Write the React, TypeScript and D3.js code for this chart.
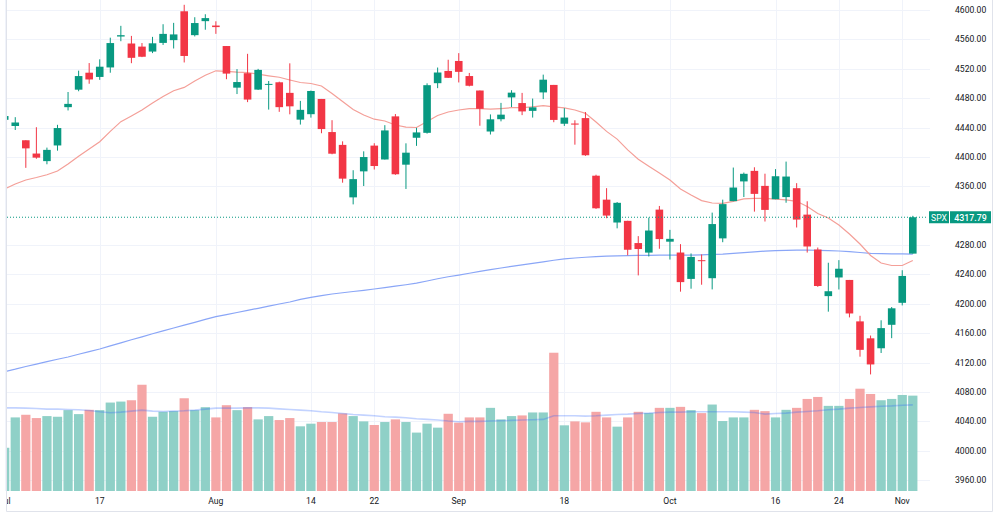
import * as d3 from 'd3'

// SPX daily, Jul 3 – Nov 2 2023
const dates = [
  '2023-07-03', '2023-07-05', '2023-07-06', '2023-07-07', '2023-07-10', '2023-07-11', '2023-07-12', '2023-07-13', '2023-07-14', '2023-07-17',
  '2023-07-18', '2023-07-19', '2023-07-20', '2023-07-21', '2023-07-24', '2023-07-25', '2023-07-26', '2023-07-27', '2023-07-28', '2023-07-31',
  '2023-08-01', '2023-08-02', '2023-08-03', '2023-08-04', '2023-08-07', '2023-08-08', '2023-08-09', '2023-08-10', '2023-08-11', '2023-08-14',
  '2023-08-15', '2023-08-16', '2023-08-17', '2023-08-18', '2023-08-21', '2023-08-22', '2023-08-23', '2023-08-24', '2023-08-25', '2023-08-28',
  '2023-08-29', '2023-08-30', '2023-08-31', '2023-09-01', '2023-09-05', '2023-09-06', '2023-09-07', '2023-09-08', '2023-09-11', '2023-09-12',
  '2023-09-13', '2023-09-14', '2023-09-15', '2023-09-18', '2023-09-19', '2023-09-20', '2023-09-21', '2023-09-22', '2023-09-25', '2023-09-26',
  '2023-09-27', '2023-09-28', '2023-09-29', '2023-10-02', '2023-10-03', '2023-10-04', '2023-10-05', '2023-10-06', '2023-10-09', '2023-10-10',
  '2023-10-11', '2023-10-12', '2023-10-13', '2023-10-16', '2023-10-17', '2023-10-18', '2023-10-19', '2023-10-20', '2023-10-23', '2023-10-24',
  '2023-10-25', '2023-10-26', '2023-10-27', '2023-10-30', '2023-10-31', '2023-11-01', '2023-11-02',
]

const opens = [
  4450.48, 4442.04, 4422.62, 4404.54, 4394.23, 4415.55, 4467.69, 4491.50, 4514.61, 4508.86,
  4521.78, 4563.87, 4554.38, 4550.16, 4543.39, 4555.19, 4558.96, 4598.26, 4565.75, 4584.82,
  4578.83, 4550.93, 4494.27, 4513.96, 4491.58, 4498.03, 4501.57, 4487.16, 4450.69, 4458.13,
  4478.87, 4433.79, 4416.32, 4344.88, 4380.28, 4415.33, 4396.44, 4455.16, 4389.38, 4426.03,
  4432.75, 4500.34, 4517.01, 4530.60, 4510.06, 4490.35, 4434.55, 4451.30, 4480.98, 4473.27,
  4462.65, 4487.78, 4497.98, 4445.13, 4445.41, 4452.81, 4374.36, 4341.74, 4310.62, 4312.88,
  4282.63, 4269.65, 4328.18, 4284.52, 4269.75, 4233.83, 4259.31, 4234.79, 4289.02, 4339.75,
  4366.59, 4380.94, 4360.49, 4342.37, 4345.23, 4357.35, 4321.36, 4273.85, 4210.40, 4235.79,
  4232.42, 4175.99, 4152.93, 4139.39, 4171.33, 4201.27, 4268.26,
]
const highs = [
  4456.46, 4454.06, 4422.62, 4440.39, 4412.60, 4443.64, 4488.34, 4517.38, 4527.76, 4532.85,
  4562.30, 4578.43, 4564.74, 4555.00, 4563.41, 4580.62, 4582.47, 4607.07, 4590.16, 4594.22,
  4584.62, 4550.93, 4519.49, 4540.34, 4519.84, 4503.31, 4502.44, 4527.37, 4476.23, 4490.33,
  4478.87, 4449.95, 4421.17, 4381.82, 4407.55, 4418.59, 4443.18, 4458.30, 4418.46, 4439.56,
  4500.14, 4521.65, 4532.26, 4541.25, 4514.29, 4490.35, 4457.81, 4473.53, 4490.77, 4487.11,
  4479.39, 4511.99, 4497.98, 4466.36, 4449.85, 4461.03, 4375.70, 4357.40, 4338.51, 4313.01,
  4292.07, 4317.27, 4333.15, 4300.58, 4281.15, 4268.50, 4267.13, 4324.10, 4341.73, 4385.46,
  4378.64, 4385.85, 4377.10, 4383.33, 4393.57, 4364.20, 4339.54, 4276.56, 4255.84, 4259.38,
  4232.42, 4183.60, 4156.70, 4177.47, 4195.55, 4245.64, 4319.72,
]
const lows = [
  4442.29, 4436.61, 4385.05, 4397.40, 4389.92, 4408.46, 4463.23, 4489.36, 4499.56, 4504.90,
  4514.59, 4557.48, 4527.56, 4535.79, 4541.29, 4552.42, 4547.58, 4528.56, 4564.01, 4573.14,
  4567.53, 4505.75, 4485.54, 4474.55, 4491.15, 4464.39, 4461.33, 4457.92, 4443.98, 4453.44,
  4432.19, 4403.55, 4364.83, 4335.31, 4360.30, 4382.77, 4396.44, 4375.55, 4356.29, 4414.98,
  4431.68, 4493.59, 4507.39, 4501.35, 4496.01, 4442.38, 4430.46, 4448.38, 4467.89, 4456.83,
  4453.52, 4478.69, 4447.21, 4442.11, 4416.61, 4401.38, 4329.17, 4316.49, 4302.70, 4265.98,
  4238.63, 4264.38, 4274.86, 4260.21, 4216.45, 4220.48, 4225.91, 4219.55, 4283.79, 4339.64,
  4345.34, 4325.43, 4311.97, 4342.37, 4337.54, 4303.84, 4269.69, 4223.03, 4189.22, 4219.43,
  4181.42, 4127.90, 4103.78, 4132.94, 4153.12, 4197.74, 4268.26,
]
const closes = [
  4455.59, 4446.82, 4411.59, 4398.95, 4409.53, 4439.26, 4472.16, 4510.04, 4505.42, 4522.79,
  4554.98, 4565.72, 4534.87, 4536.34, 4554.64, 4567.46, 4566.75, 4537.41, 4582.23, 4588.96,
  4576.73, 4513.39, 4501.89, 4478.03, 4518.44, 4499.38, 4467.71, 4468.83, 4464.05, 4489.72,
  4437.86, 4404.33, 4370.36, 4369.71, 4399.77, 4387.55, 4436.01, 4376.31, 4405.71, 4433.31,
  4497.63, 4514.87, 4507.66, 4515.77, 4496.83, 4465.48, 4451.14, 4457.49, 4487.46, 4461.90,
  4467.44, 4505.10, 4450.32, 4453.53, 4443.95, 4402.20, 4330.00, 4320.06, 4337.44, 4273.53,
  4274.51, 4299.70, 4288.05, 4288.39, 4229.45, 4263.75, 4258.19, 4308.50, 4335.66, 4358.24,
  4376.95, 4349.61, 4327.78, 4373.63, 4373.20, 4314.60, 4278.00, 4224.16, 4217.04, 4247.68,
  4186.77, 4137.23, 4117.37, 4166.82, 4193.80, 4237.86, 4317.79,
]
// volume, billions
const volumes = [
  1.31, 2.23, 2.31, 2.21, 2.27, 2.25, 2.45, 2.33, 2.46, 2.45,
  2.68, 2.71, 2.75, 3.22, 2.25, 2.40, 2.42, 2.81, 2.45, 2.54,
  2.23, 2.60, 2.45, 2.54, 2.17, 2.27, 2.15, 2.21, 1.96, 2.04,
  2.09, 2.09, 2.35, 2.27, 2.11, 2.00, 2.09, 2.17, 2.09, 1.77,
  2.04, 1.92, 2.34, 2.07, 2.23, 2.23, 2.52, 2.17, 2.27, 2.29,
  2.38, 2.38, 4.19, 1.99, 2.11, 2.08, 2.40, 2.23, 1.95, 2.23,
  2.40, 2.36, 2.52, 2.52, 2.55, 2.45, 2.36, 2.62, 2.12, 2.23,
  2.23, 2.46, 2.42, 2.23, 2.46, 2.52, 2.79, 2.85, 2.58, 2.58,
  2.79, 3.10, 2.94, 2.75, 2.79, 2.91, 2.89,
]
// indicator lines
const maFast = [
  4356.3, 4363.1, 4368.5, 4371.9, 4375.7, 4380.8, 4390.3, 4400.8, 4410.7, 4420.7,
  4434.8, 4448.0, 4455.7, 4463.8, 4473.4, 4482.2, 4490.0, 4494.6, 4503.3, 4511.2,
  4517.2, 4516.4, 4515.3, 4514.9, 4512.6, 4510.4, 4508.4, 4504.7, 4501.3, 4499.9,
  4496.5, 4486.3, 4475.4, 4464.5, 4457.0, 4451.3, 4448.9, 4443.4, 4440.4, 4440.0,
  4448.2, 4456.3, 4461.1, 4463.8, 4465.7, 4465.8, 4464.9, 4465.8, 4467.0, 4467.0,
  4468.2, 4469.7, 4468.2, 4466.6, 4463.8, 4459.3, 4447.5, 4434.7, 4424.2, 4409.6,
  4396.7, 4387.3, 4377.9, 4368.5, 4356.3, 4348.1, 4340.5, 4337.2, 4336.8, 4339.3,
  4342.9, 4343.6, 4343.5, 4342.6, 4341.5, 4339.5, 4332.4, 4322.9, 4316.8, 4307.2,
  4295.0, 4281.4, 4265.7, 4255.5, 4252.1, 4252.1, 4258.9,
]
const maSlow = [
  4107.7, 4110.9, 4114.6, 4117.7, 4121.1, 4124.4, 4127.5, 4131.2, 4134.8, 4138.4,
  4142.6, 4146.8, 4151.0, 4155.0, 4159.1, 4163.0, 4167.0, 4170.9, 4174.7, 4178.8,
  4182.5, 4185.2, 4188.1, 4190.9, 4193.8, 4196.7, 4199.7, 4202.4, 4205.9, 4208.6,
  4211.0, 4213.3, 4215.0, 4216.7, 4218.3, 4220.1, 4222.0, 4224.0, 4225.9, 4228.0,
  4231.0, 4234.0, 4236.8, 4239.1, 4241.5, 4244.0, 4246.4, 4248.7, 4250.9, 4252.9,
  4255.1, 4257.1, 4259.2, 4261.1, 4262.3, 4263.3, 4264.1, 4264.9, 4265.3, 4265.6,
  4265.8, 4266.0, 4266.1, 4266.1, 4266.2, 4266.1, 4266.5, 4267.1, 4267.7, 4268.7,
  4269.6, 4270.6, 4271.7, 4272.4, 4272.7, 4272.9, 4273.2, 4272.8, 4272.4, 4271.8,
  4270.9, 4269.8, 4268.7, 4268.2, 4268.0, 4267.8, 4267.6,
]
const volumeMa = [
  2.52, 2.52, 2.51, 2.50, 2.48, 2.48, 2.47, 2.46, 2.44, 2.40,
  2.37, 2.39, 2.42, 2.45, 2.42, 2.41, 2.42, 2.43, 2.45, 2.48,
  2.51, 2.51, 2.51, 2.52, 2.52, 2.51, 2.49, 2.47, 2.45, 2.43,
  2.40, 2.38, 2.35, 2.32, 2.30, 2.28, 2.25, 2.24, 2.22, 2.19,
  2.17, 2.15, 2.12, 2.10, 2.11, 2.11, 2.12, 2.13, 2.14, 2.15,
  2.16, 2.17, 2.28, 2.28, 2.28, 2.27, 2.28, 2.30, 2.32, 2.33,
  2.35, 2.36, 2.38, 2.39, 2.39, 2.40, 2.40, 2.40, 2.40, 2.40,
  2.39, 2.38, 2.33, 2.35, 2.36, 2.39, 2.41, 2.43, 2.46, 2.48,
  2.51, 2.53, 2.55, 2.57, 2.58, 2.60, 2.61,
]

const priceTicks = [4600, 4560, 4520, 4480, 4440, 4400, 4360, 4280, 4240, 4200, 4160, 4120, 4080, 4040, 4000, 3960]
const timeTicks = [
  { date: '2023-07-03', label: 'Jul' },
  { date: '2023-07-17', label: '17' },
  { date: '2023-08-01', label: 'Aug' },
  { date: '2023-08-14', label: '14' },
  { date: '2023-08-22', label: '22' },
  { date: '2023-09-01', label: 'Sep' },
  { date: '2023-09-18', label: '18' },
  { date: '2023-10-02', label: 'Oct' },
  { date: '2023-10-16', label: '16' },
  { date: '2023-10-24', label: '24' },
  { date: '2023-11-01', label: 'Nov' },
]
const symbol = 'SPX'

const UP = '#089981'
const DOWN = '#f23645'
const UP_VOL = '#8fd0c7'
const DOWN_VOL = '#f5a6a6'
const GRID = '#f0f3fa'
const TEXT = '#131722'
const FONT = 'Roboto, "Noto Sans", sans-serif'

const PANE = { left: 7, right: 927, top: 0, bottom: 491 }

export default function App() {
  const W = 1000
  const H = 514

  const x = d3.scaleLinear().domain([0, dates.length - 1]).range([4.7, 912.8])
  const y = d3.scaleLinear().domain([3960, 4600]).range([480, 10])
  const yVol = d3.scaleLinear().domain([0, 4.5]).range([PANE.bottom, PANE.bottom - 148.5])

  const priceLine = d3.line<number>().x((_, i) => x(i)).y(d => y(d))
  const volLine = d3.line<number>().x((_, i) => x(i)).y(d => yVol(d))

  const step = x(1) - x(0)
  const bodyW = 7.6
  const volW = step - 1.3

  const last = closes[closes.length - 1]
  const lastY = y(last)

  return (
    <div style={{ position: 'fixed', left: 0, top: 0, width: W, height: H, background: '#fff' }}>
      <svg width={W} height={H} style={{ display: 'block', fontFamily: FONT }}>
        <defs>
          <clipPath id="pane">
            <rect x={PANE.left} y={PANE.top} width={PANE.right - PANE.left} height={PANE.bottom - PANE.top} />
          </clipPath>
          <clipPath id="timeAxis">
            <rect x={PANE.left} y={PANE.bottom} width={PANE.right - PANE.left} height={H - PANE.bottom} />
          </clipPath>
        </defs>

        {/* grid */}
        <g>
          {priceTicks.map(t => (
            <line key={t} x1={PANE.left} x2={930} y1={Math.round(y(t)) + 0.5} y2={Math.round(y(t)) + 0.5} stroke={GRID} />
          ))}
          {timeTicks.map(t => {
            const xi = Math.round(x(dates.indexOf(t.date))) + 0.5
            return <line key={t.date} x1={xi} x2={xi} y1={PANE.top} y2={PANE.bottom} stroke={GRID} />
          })}
        </g>

        <g clipPath="url(#pane)">
          {/* volume */}
          {volumes.map((v, i) => (
            <rect
              key={dates[i]}
              x={x(i) - volW / 2}
              y={yVol(v)}
              width={volW}
              height={yVol(0) - yVol(v)}
              fill={closes[i] >= opens[i] ? UP_VOL : DOWN_VOL}
            />
          ))}
          <path d={volLine(volumeMa) ?? ''} fill="none" stroke="rgba(41,98,255,0.28)" strokeWidth={1.6} />

          {/* moving averages */}
          <path d={priceLine(maSlow) ?? ''} fill="none" stroke="#8aa6f7" strokeWidth={1.2} />
          <path d={priceLine(maFast) ?? ''} fill="none" stroke="#f49f98" strokeWidth={1.2} />

          {/* candles */}
          {dates.map((d, i) => {
            const up = closes[i] >= opens[i]
            const c = up ? UP : DOWN
            const top = y(Math.max(opens[i], closes[i]))
            const bot = y(Math.min(opens[i], closes[i]))
            const cx = x(i)
            return (
              <g key={d}>
                <line x1={cx} x2={cx} y1={y(highs[i])} y2={y(lows[i])} stroke={c} strokeWidth={1} />
                <rect x={cx - bodyW / 2} y={top} width={bodyW} height={Math.max(1, bot - top)} fill={c} />
              </g>
            )
          })}

          {/* last price line */}
          <line x1={PANE.left} x2={PANE.right + 1} y1={lastY} y2={lastY} stroke={UP} strokeDasharray="1 2" />
        </g>

        {/* price scale */}
        <g fontSize={8.6} fill={TEXT}>
          {priceTicks.map(t => (
            <text key={t} x={955} y={y(t)} dominantBaseline="central">
              {t.toFixed(2)}
            </text>
          ))}
        </g>

        {/* last price label */}
        <g>
          <rect x={929} y={lastY - 6} width={20} height={12} fill={UP} />
          <rect x={950} y={lastY - 6} width={41} height={12} fill={UP} />
          <text x={939} y={lastY + 0.5} fill="#fff" fontSize={8.6} textAnchor="middle" dominantBaseline="central">
            {symbol}
          </text>
          <text x={970.5} y={lastY + 0.5} fill="#fff" fontSize={8.8} fontWeight={500} textAnchor="middle" dominantBaseline="central">
            {last.toFixed(2)}
          </text>
        </g>

        {/* time axis */}
        <g clipPath="url(#timeAxis)" fontSize={8.6} fill={TEXT}>
          {timeTicks.map(t => (
            <text key={t.date} x={x(dates.indexOf(t.date))} y={501} textAnchor="middle" dominantBaseline="central">
              {t.label}
            </text>
          ))}
        </g>

        {/* frame */}
        <path d={`M6.5,0 V511.5 H992.5 V0`} fill="none" stroke="#e0e3eb" />
      </svg>
    </div>
  )
}
